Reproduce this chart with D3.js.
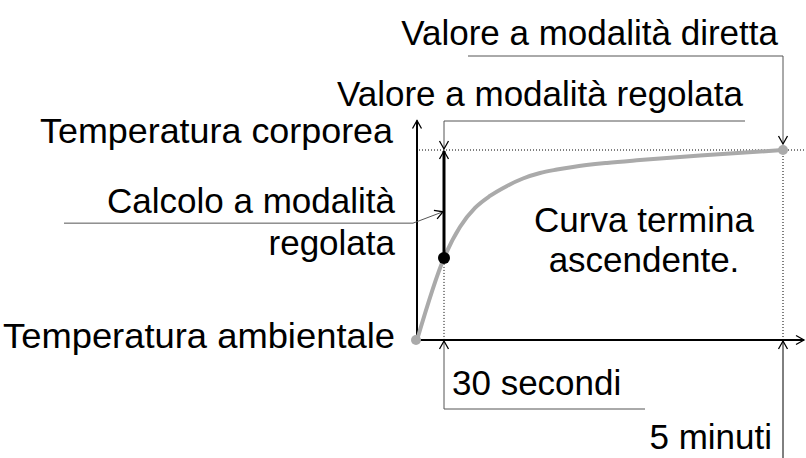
<!DOCTYPE html>
<html><head><meta charset="utf-8">
<script src="https://cdn.jsdelivr.net/npm/d3@7/dist/d3.min.js"></script>
<style>
html,body{margin:0;padding:0;background:#fff;}
svg{display:block;}
text{font-family:"Liberation Sans",Arial,sans-serif;font-size:35px;fill:#000;}
</style></head>
<body>
<svg id="chart" width="806" height="458"></svg>
<script>
// time (s) and rise of temperature (% between ambient and body temperature)
const curveTime = [0, 30, 42.7, 54.7, 66.6, 80.2, 92.9, 106.5, 120, 132.7, 159.8, 186.1, 233.9, 300];
const curveRise = [0, 43.2, 59.5, 69.5, 75.8, 81.1, 85, 87.9, 89.7, 91.1, 93.2, 94.7, 97.1, 100];
const timeMarks = [30, 300];            // 30 secondi, 5 minuti
const timeLabels = ["30 secondi", "5 minuti"];
const levelLabels = ["Temperatura corporea", "Temperatura ambientale"];
const pointLabels = ["Valore a modalità regolata", "Valore a modalità diretta"];
const calcLabel = ["Calcolo a modalità", "regolata"];
const noteLabel = ["Curva termina", "ascendente."];

const svg = d3.select("#chart");
const x = d3.scaleLinear().domain([0, 30, 300]).range([417, 444, 783]);
const y = d3.scaleLinear().domain([0, 100]).range([340, 150]);

const defs = svg.append("defs");
defs.append("marker").attr("id", "arr").attr("viewBox", "-10 -6 12 12")
  .attr("refX", 0).attr("refY", 0).attr("markerWidth", 12).attr("markerHeight", 12)
  .attr("markerUnits", "userSpaceOnUse").attr("orient", "auto")
  .append("path").attr("d", "M-8,-4.5L0,0L-8,4.5").attr("fill", "none")
  .attr("stroke", "#000").attr("stroke-width", 1.3);
const line = d3.line();

// dotted guides
svg.append("line").attr("x1", x(0) + 2).attr("x2", 806).attr("y1", y(100)).attr("y2", y(100))
  .attr("stroke", "#000").attr("stroke-width", 1).attr("stroke-dasharray", "1,2");
svg.append("line").attr("x1", x(300)).attr("x2", x(300)).attr("y1", y(100)).attr("y2", y(0))
  .attr("stroke", "#000").attr("stroke-width", 1).attr("stroke-dasharray", "1,2");
svg.append("line").attr("x1", x(30)).attr("x2", x(30)).attr("y1", y(curveRise[1])).attr("y2", y(0))
  .attr("stroke", "#000").attr("stroke-width", 1).attr("stroke-dasharray", "1,2");

// axes
svg.append("line").attr("x1", x(0)).attr("x2", x(0)).attr("y1", y(0) + 1).attr("y2", y(64.5))
  .attr("stroke", "#000").attr("stroke-width", 2);
svg.append("line").attr("x1", x(0)).attr("x2", x(0)).attr("y1", y(57)).attr("y2", y(115.5))
  .attr("stroke", "#000").attr("stroke-width", 2).attr("marker-end", "url(#arr)");
svg.append("line").attr("x1", x(0)).attr("x2", 804).attr("y1", y(0)).attr("y2", y(0))
  .attr("stroke", "#000").attr("stroke-width", 2).attr("marker-end", "url(#arr)");

// curve
const pts = curveTime.map((t, i) => [x(t), y(curveRise[i])]);
svg.append("path").attr("d", d3.line().curve(d3.curveMonotoneX)(pts))
  .attr("fill", "none").attr("stroke", "#aaaaaa").attr("stroke-width", 4).attr("stroke-linecap", "round");
svg.append("circle").attr("cx", x(0) - 1).attr("cy", y(0)).attr("r", 5).attr("fill", "#aaaaaa");
svg.append("circle").attr("cx", x(300)).attr("cy", y(100)).attr("r", 5).attr("fill", "#aaaaaa");

// thick line from calculated point to predicted value
svg.append("line").attr("x1", x(30)).attr("x2", x(30)).attr("y1", y(curveRise[1])).attr("y2", y(100) + 1)
  .attr("stroke", "#000").attr("stroke-width", 3).attr("marker-end", "url(#arr)");
svg.append("circle").attr("cx", x(30)).attr("cy", y(curveRise[1])).attr("r", 6).attr("fill", "#000");

// leaders
const leaderColor = "#555";
svg.append("path").attr("d", line([[x(30) + 301, y(100) - 29], [x(30), y(100) - 29], [x(30), y(100) - 1]]))
  .attr("fill", "none").attr("stroke", leaderColor).attr("stroke-width", 1).attr("marker-end", "url(#arr)");
svg.append("path").attr("d", line([[x(30) + 24, y(100) - 94], [x(300), y(100) - 94], [x(300), y(100) - 6]]))
  .attr("fill", "none").attr("stroke", leaderColor).attr("stroke-width", 1).attr("marker-end", "url(#arr)");
svg.append("path").attr("d", line([[64, y(61.5)], [x(0) - 4, y(61.5)], [x(30) - 1, y(67.5)]]))
  .attr("fill", "none").attr("stroke", leaderColor).attr("stroke-width", 1).attr("marker-end", "url(#arr)");
svg.append("path").attr("d", line([[x(30) + 201, y(0) + 69], [x(30), y(0) + 69], [x(30), y(0) + 1]]))
  .attr("fill", "none").attr("stroke", leaderColor).attr("stroke-width", 1).attr("marker-end", "url(#arr)");
svg.append("path").attr("d", line([[x(300), 458], [x(300), y(0) + 1]]))
  .attr("fill", "none").attr("stroke", "#000").attr("stroke-width", 1).attr("marker-end", "url(#arr)");

// texts
svg.append("text").attr("x", 778).attr("y", 45).attr("text-anchor", "end").text(pointLabels[1]);
svg.append("text").attr("x", 743).attr("y", 106).attr("text-anchor", "end").text(pointLabels[0]);
svg.append("text").attr("x", 393).attr("y", y(100) - 7).attr("text-anchor", "end")
  .attr("textLength", 353).attr("lengthAdjust", "spacingAndGlyphs").text(levelLabels[0]);
svg.append("text").attr("x", 395).attr("y", y(0) + 8).attr("text-anchor", "end")
  .attr("textLength", 392).attr("lengthAdjust", "spacingAndGlyphs").text(levelLabels[1]);
svg.append("text").attr("x", 395).attr("y", 213).attr("text-anchor", "end").text(calcLabel[0]);
svg.append("text").attr("x", 395).attr("y", 255).attr("text-anchor", "end").text(calcLabel[1]);
svg.append("text").attr("x", 644).attr("y", 232).attr("text-anchor", "middle").text(noteLabel[0]);
svg.append("text").attr("x", 644).attr("y", 272).attr("text-anchor", "middle").text(noteLabel[1]);
svg.append("text").attr("x", x(timeMarks[0]) + 8).attr("y", 395).text(timeLabels[0]);
svg.append("text").attr("x", x(timeMarks[1]) - 11).attr("y", 449).attr("text-anchor", "end").text(timeLabels[1]);
</script>
</body></html>
